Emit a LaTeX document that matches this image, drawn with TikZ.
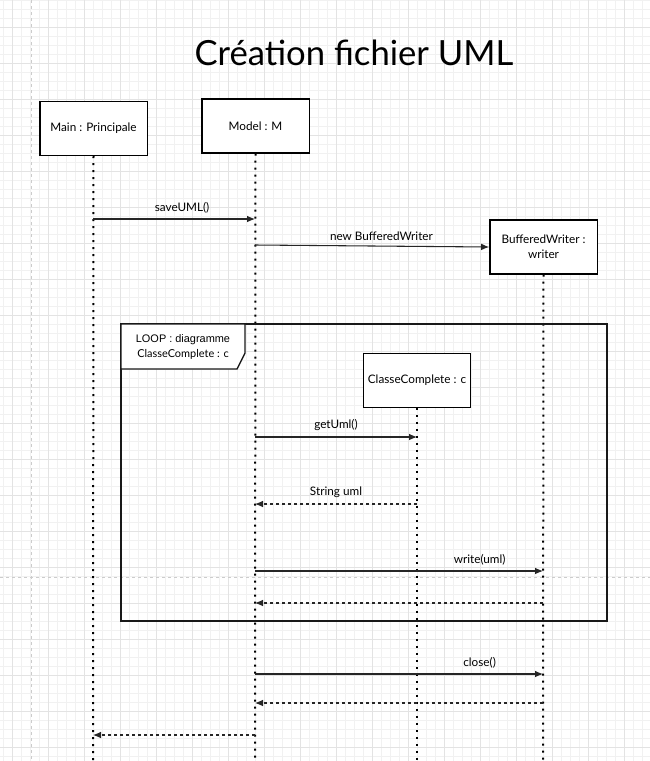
\documentclass[tikz,border=0pt]{standalone}
\usepackage{fontspec}
\setmainfont{Lato}
\newfontfamily\arialfont{Liberation Sans}
\usetikzlibrary{arrows.meta}
\definecolor{gridminor}{HTML}{F1F1F1}
\definecolor{gridmajor}{HTML}{E3E3E3}

\begin{document}
\begin{tikzpicture}[x = 0.75pt, y = -0.75pt]
\tikzstyle{ObjStyle}=[draw = black, line width = 1pt, fill = white,
                      minimum width = 80.5pt, minimum height = 40.5pt,
                      inner sep = 1pt, align = center,
                      font = \fontsize{8.8}{11}\selectfont]
\tikzstyle{LifeStyle}=[line width = 1.5pt, dash pattern = on 1.5pt off 3.75pt]
\tikzstyle{CallStyle}=[-{Latex[length = 6pt, width = 5pt]}, line width = 0.8pt, draw = black!85]
\tikzstyle{ReturnStyle}=[CallStyle, dash pattern = on 2.25pt off 2.25pt]
\tikzstyle{MsgStyle}=[font = \fontsize{8.8}{10}\selectfont, inner sep = 2pt, yshift = 2pt]
\useasboundingbox (0,0) rectangle (650,761);
\fill[white] (0,0) rectangle (650,761);
\foreach \i in {0,...,72} \draw[gridminor, line width = 0.75pt] (3.7+9*\i,0) -- (3.7+9*\i,761);
\foreach \i in {0,...,84} \draw[gridminor, line width = 0.75pt] (0,9*\i) -- (650,9*\i);
\foreach \i in {0,...,17} \draw[gridmajor, line width = 0.75pt] (12.7+36*\i,0) -- (12.7+36*\i,761);
\foreach \i in {0,...,20} \draw[gridmajor, line width = 0.75pt] (0,27+36*\i) -- (650,27+36*\i);
\draw[black!20, line width = 0.75pt, dash pattern = on 2.25pt off 2.25pt] (31,0) -- (31,761) (0,577) -- (650,577);
\node[font = \fontsize{26}{30}\selectfont] (title) at (354,53) {Création fichier UML};
\node[ObjStyle] (main) at (93.5,128.5) {Main : Principale};
\node[ObjStyle] (model) at (255.5,126) {Model : M};
\node[ObjStyle] (writer) at (543.5,247) {BufferedWriter :\\ writer};
\coordinate (mainEnd) at (93,761);
\coordinate (modelEnd) at (255,761);
\coordinate (writerEnd) at (543,761);
\coordinate (classeEnd) at (417,761);
\draw[LifeStyle] (main.south) -- (mainEnd);
\draw[LifeStyle] (model.south) -- (modelEnd);
\draw[LifeStyle] (writer.south) -- (writerEnd);
\draw[line width = 1pt, draw = black!90] (121,324) rectangle (607,621);
\draw[line width = 1pt, draw = black!90, fill = white] (121,324) -- (245,324) -- (245,353) -- (237,369) -- (121,369) -- cycle;
\node[font = \arialfont\fontsize{8.2}{10}\selectfont] (loop) at (183,340) {LOOP : diagramme};
\node[font = \fontsize{8.2}{10}\selectfont] (loopvar) at (183,354) {ClasseComplete : c};
\node[ObjStyle] (classe) at (417,380.5) {ClasseComplete : c};
\draw[LifeStyle] (classe.south) -- (classeEnd);
\coordinate (m1) at (93,219);  \coordinate (M1) at (255,219);
\coordinate (M2) at (255,245);
\coordinate (M3) at (255,437); \coordinate (c3) at (417,437);
\coordinate (M4) at (255,504); \coordinate (c4) at (417,504);
\coordinate (M5) at (255,571); \coordinate (w5) at (543,571);
\coordinate (M6) at (255,603); \coordinate (w6) at (543,603);
\coordinate (M7) at (255,674); \coordinate (w7) at (543,674);
\coordinate (M8) at (255,703); \coordinate (w8) at (543,703);
\coordinate (m9) at (93,735);  \coordinate (M9) at (255,735);
\draw[CallStyle] (m1) -- node[MsgStyle, above, pos = 0.55] {saveUML()} (M1);
\draw[CallStyle] (M2) -- node[MsgStyle, above, pos = 0.54] {new BufferedWriter} (writer.west);
\draw[CallStyle] (M3) -- node[MsgStyle, above] {getUml()} (c3);
\draw[ReturnStyle] (c4) -- node[MsgStyle, above] {String uml} (M4);
\draw[CallStyle] (M5) -- node[MsgStyle, above, pos = 0.78] {write(uml)} (w5);
\draw[ReturnStyle] (w6) -- (M6);
\draw[CallStyle] (M7) -- node[MsgStyle, above, pos = 0.78] {close()} (w7);
\draw[ReturnStyle] (w8) -- (M8);
\draw[ReturnStyle] (M9) -- (m9);
\end{tikzpicture}
\end{document}
